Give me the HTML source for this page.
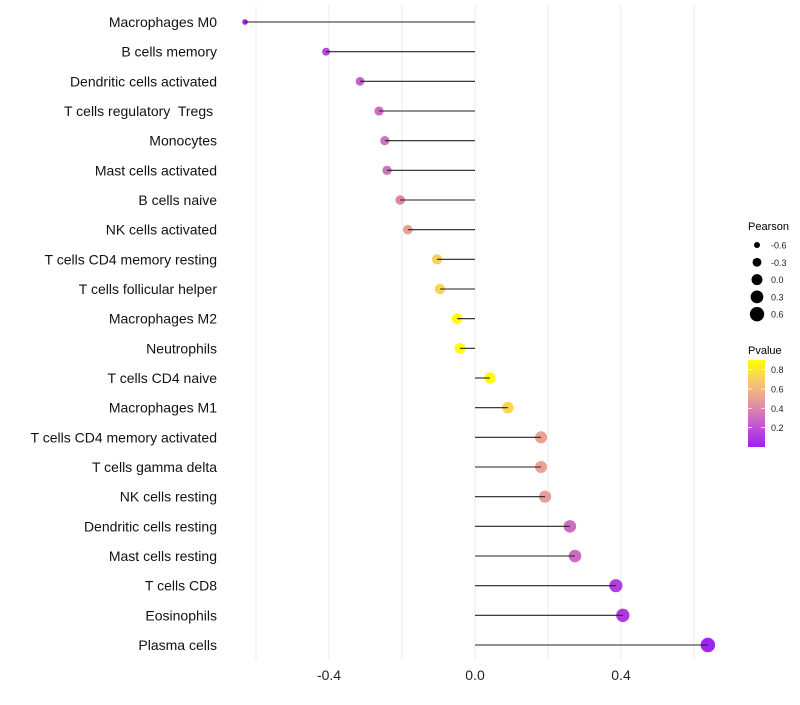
<!DOCTYPE html>
<html><head><meta charset="utf-8"><style>
body{margin:0;background:#fff;font-family:"Liberation Sans",sans-serif}
svg text{font-family:"Liberation Sans",sans-serif;white-space:pre}
</style></head><body>
<svg id="chart" width="800" height="700">
<defs><linearGradient id="pg" x1="0" y1="1" x2="0" y2="0">
<stop offset="0" stop-color="#a020f0"/><stop offset="0.3" stop-color="#c864c8"/><stop offset="0.55" stop-color="#e8a096"/><stop offset="0.75" stop-color="#f5c86e"/><stop offset="1" stop-color="#ffff00"/>
</linearGradient></defs>
<g id="grid"></g><g id="marks"></g><g id="labels"></g>
<g>
<text x="748" y="230" font-size="11" fill="#000">Pearson</text>
<g id="sizeleg"></g>
</g>
<g>
<text x="748" y="354" font-size="11" fill="#000">Pvalue</text>
<rect x="748" y="360" width="17" height="87" fill="url(#pg)"/>
<g id="colorleg"></g>
</g>
</svg>
<script>
const cells=["Macrophages M0","B cells memory","Dendritic cells activated","T cells regulatory  Tregs ","Monocytes","Mast cells activated","B cells naive","NK cells activated","T cells CD4 memory resting","T cells follicular helper","Macrophages M2","Neutrophils","T cells CD4 naive","Macrophages M1","T cells CD4 memory activated","T cells gamma delta","NK cells resting","Dendritic cells resting","Mast cells resting","T cells CD8","Eosinophils","Plasma cells"];
const pearson=[-0.63,-0.408,-0.315,-0.263,-0.247,-0.241,-0.205,-0.184,-0.104,-0.096,-0.049,-0.041,0.041,0.090,0.181,0.181,0.192,0.260,0.274,0.386,0.405,0.638];
const pvalue=[0.01,0.15,0.25,0.3,0.32,0.32,0.4,0.5,0.7,0.72,0.9,0.9,0.88,0.73,0.5,0.5,0.48,0.3,0.3,0.12,0.1,0.01];
const xTicks=[-0.4,0,0.4];
const xTickLabels=["-0.4","0.0","0.4"];
const minorTicks=[-0.6,-0.2,0.2,0.6];
const sizeBreaks=[-0.6,-0.3,0.0,0.3,0.6];
const colorBreaks=[0.2,0.4,0.6,0.8];
const NS="http://www.w3.org/2000/svg";
const X=v=>475+v*365;
const Y=i=>22+i*(623/21);
const R=v=>Math.sqrt(Math.max(4,30+35*v));
const stops=[[0,[160,32,240]],[0.3,[200,100,200]],[0.55,[232,160,150]],[0.75,[245,200,110]],[1,[255,255,0]]];
function col(p){let t=Math.max(0,Math.min(1,p/0.89));for(let k=1;k<stops.length;k++){if(t<=stops[k][0]){const a=stops[k-1],b=stops[k];const f=(t-a[0])/(b[0]-a[0]);return "rgb("+a[1].map((c,j)=>Math.round(c+(b[1][j]-c)*f)).join(",")+")";}}return "rgb(255,255,0)";}
function mk(tag,attrs,parent){const e=document.createElementNS(NS,tag);for(const k in attrs)e.setAttribute(k,attrs[k]);parent.appendChild(e);return e;}
const grid=document.getElementById('grid'),marks=document.getElementById('marks'),labels=document.getElementById('labels');
minorTicks.concat(xTicks).forEach(v=>{const l=mk('line',{x1:X(v),x2:X(v),y1:5,y2:660,stroke:'#ebebeb','stroke-width':1},grid);

});
xTicks.forEach((v,i)=>{const t=mk('text',{x:X(v),y:680,'font-size':14,fill:'#222','text-anchor':'middle'},labels);t.textContent=xTickLabels[i];

});
cells.forEach((c,i)=>{
const t=mk('text',{x:217,y:Y(i)+5,'font-size':14,fill:'#111','text-anchor':'end'},labels);t.textContent=c;


const p=mk('circle',{cx:X(pearson[i]),cy:Y(i),r:R(pearson[i]),fill:col(pvalue[i])},marks);


const s=mk('line',{x1:X(0),x2:X(pearson[i]),y1:Y(i),y2:Y(i),stroke:'#222','stroke-width':1.1},marks);


});
const sl=document.getElementById('sizeleg');
sizeBreaks.forEach((v,i)=>{const y=245+i*17.3;
const c=mk('circle',{cx:757,cy:y,r:R(v),fill:'#000'},sl);


const t=mk('text',{x:771,y:y+3.5,'font-size':9,fill:'#222'},sl);t.textContent=v.toFixed(1);

});
const cl=document.getElementById('colorleg');
colorBreaks.forEach(v=>{const y=447-v*96.7;
mk('line',{x1:748,x2:752,y1:y,y2:y,stroke:'#fff','stroke-width':0.8},cl);
mk('line',{x1:761,x2:765,y1:y,y2:y,stroke:'#fff','stroke-width':0.8},cl);
const t=mk('text',{x:771,y:y+3.5,'font-size':9,fill:'#222'},cl);t.textContent=v.toFixed(1);

});
</script>
</body></html>
